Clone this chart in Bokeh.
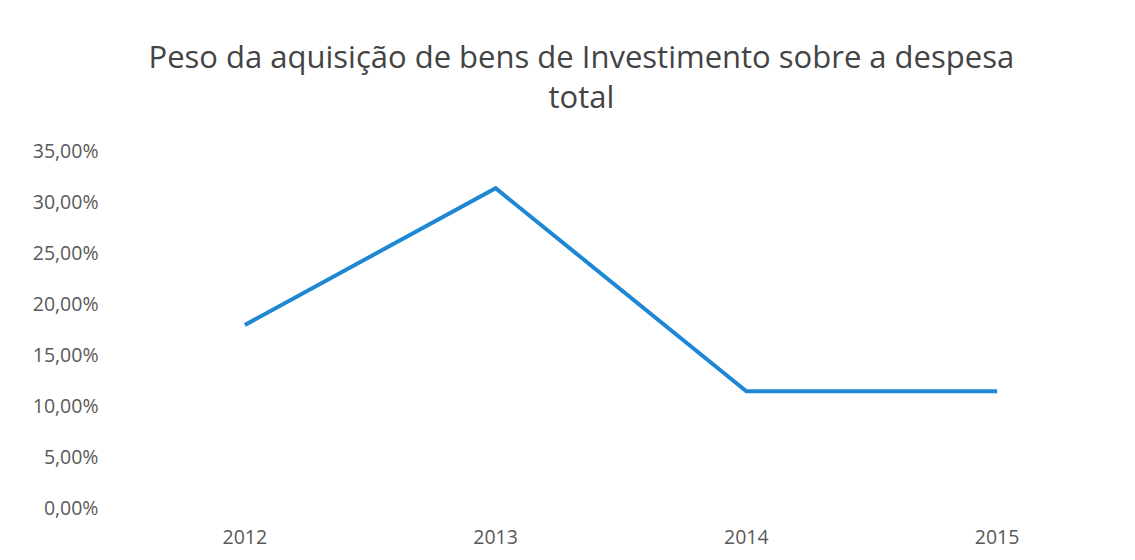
from bokeh.plotting import figure
from bokeh.models import FactorRange, Range1d, FixedTicker, CustomJSTickFormatter, Title
from bokeh.embed import file_html
from bokeh.resources import INLINE

years = ["2012", "2013", "2014", "2015"]
share_pct = [17.9, 31.3, 11.4, 11.4]
y_ticks = [0, 5, 10, 15, 20, 25, 30, 35]

p = figure(width=1127, height=552, output_backend="svg", toolbar_location=None,
           x_range=FactorRange(factors=years, range_padding=0),
           y_range=Range1d(0, 35),
           min_border_left=119, min_border_right=5, min_border_top=150, min_border_bottom=45)
p.outline_line_color = None
p.background_fill_color = "white"
p.border_fill_color = "white"

p.line(x=years, y=share_pct, line_color="#1f88d5", line_width=4, line_join="miter")

t2 = Title(text="total", align="left", text_font="Open Sans", text_font_size="31px",
           text_font_style="normal", text_color="#444444", offset=429, standoff=68)
t1 = Title(text="Peso da aquisição de bens de Investimento sobre a despesa", align="left",
           text_font="Open Sans", text_font_size="31px", text_font_style="normal",
           text_color="#444444", offset=29, standoff=-76)
p.add_layout(t2, "above")
p.add_layout(t1, "above")

p.xgrid.visible = False
p.ygrid.visible = False

p.yaxis.ticker = FixedTicker(ticks=y_ticks)
p.yaxis.formatter = CustomJSTickFormatter(code="return tick.toFixed(2).replace('.', ',') + '%';")
for ax in (p.xaxis, p.yaxis):
    ax.axis_line_color = None
    ax.major_tick_line_color = None
    ax.minor_tick_line_color = None
    ax.major_label_text_font = "Open Sans"
    ax.major_label_text_font_size = "19.5px"
    ax.major_label_text_color = "#595959"
p.yaxis.major_label_standoff = 15
p.xaxis.major_label_standoff = 16

open("out.html", "w").write(file_html(p, INLINE))
